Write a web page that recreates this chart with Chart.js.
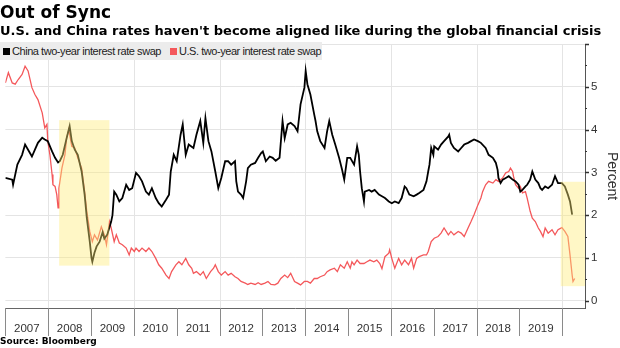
<!DOCTYPE html>
<html>
<head>
<meta charset="utf-8">
<script src="https://cdn.jsdelivr.net/npm/chart.js@4.4.1/dist/chart.umd.min.js"></script>
<style>
  html, body { margin: 0; padding: 0; background: #fff; }
  body { width: 620px; height: 348px; position: relative; overflow: hidden; }
  #title { position: absolute; left: 0; top: 2px; font: bold 17px "DejaVu Sans", sans-serif; color: #000; white-space: nowrap; }
  #subtitle { position: absolute; left: 0; top: 23px; font: bold 13px "DejaVu Sans", sans-serif; color: #000; white-space: nowrap; }
  #legend { position: absolute; left: 0; top: 42px; width: 322px; height: 18px; background: #ececec; font: 11px "Liberation Sans", Arial, sans-serif; letter-spacing: -0.45px; color: #222; z-index: 2; }
  .li { position: absolute; top: 2px; white-space: nowrap; line-height: 14px; }
  .sw { display: inline-block; width: 7px; height: 7px; margin-right: 2px; vertical-align: 0px; }
  #source { position: absolute; left: 0; top: 336px; font: bold 9px "DejaVu Sans", sans-serif; color: #000; white-space: nowrap; }
  #wrap { position: absolute; left: 0; top: 0; width: 620px; height: 338px; }
</style>
</head>
<body>
<div id="wrap"><canvas id="c" width="620" height="338"></canvas></div>
<div id="title">Out of Sync</div>
<div id="subtitle">U.S. and China rates haven't become aligned like during the global financial crisis</div>
<div id="legend"></div>
<div id="source">Source: Bloomberg</div>
<script>
// ---- data (decimal year, percent) ----
const seriesNames = ["China two-year interest rate swap", "U.S. two-year interest rate swap"];
const yearLabels = ["2007","2008","2009","2010","2011","2012","2013","2014","2015","2016","2017","2018","2019"];

const chinaDates = [
2007.00,2007.16,2007.18,2007.28,2007.39,2007.46,2007.53,2007.62,2007.69,2007.76,
2007.86,2007.92,2007.99,2008.09,2008.16,2008.23,2008.27,2008.34,2008.43,2008.50,
2008.55,2008.62,2008.69,2008.78,2008.85,2008.90,2008.97,2009.01,2009.03,2009.08,
2009.13,2009.20,2009.27,2009.31,2009.38,2009.47,2009.50,2009.54,2009.59,2009.66,
2009.73,2009.82,2009.89,2009.96,2010.05,2010.12,2010.19,2010.28,2010.35,2010.42,
2010.51,2010.58,2010.65,2010.75,2010.82,2010.86,2010.93,2011.00,2011.09,2011.14,
2011.21,2011.28,2011.35,2011.39,2011.46,2011.55,2011.62,2011.67,2011.74,2011.81,
2011.90,2011.97,2012.04,2012.13,2012.20,2012.27,2012.36,2012.39,2012.43,2012.50,
2012.55,2012.62,2012.66,2012.73,2012.83,2012.90,2012.97,2013.01,2013.08,2013.17,
2013.24,2013.31,2013.40,2013.47,2013.52,2013.59,2013.66,2013.75,2013.82,2013.89,
2013.98,2014.01,2014.05,2014.12,2014.21,2014.24,2014.28,2014.35,2014.45,2014.51,
2014.56,2014.63,2014.70,2014.79,2014.86,2014.91,2014.98,2015.05,2015.14,2015.21,
2015.25,2015.28,2015.32,2015.37,2015.39,2015.49,2015.55,2015.62,2015.72,2015.79,
2015.86,2015.95,2016.02,2016.09,2016.18,2016.25,2016.32,2016.36,2016.43,2016.53,
2016.60,2016.66,2016.76,2016.83,2016.87,2016.90,2016.94,2016.99,2017.01,2017.10,
2017.17,2017.24,2017.34,2017.36,2017.40,2017.47,2017.57,2017.64,2017.71,2017.80,
2017.87,2017.94,2018.03,2018.10,2018.21,2018.28,2018.38,2018.45,2018.49,2018.51,
2018.56,2018.61,2018.68,2018.75,2018.84,2018.91,2018.98,2019.02,2019.07,2019.14,
2019.18,2019.25,2019.30,2019.37,2019.44,2019.49,2019.53,2019.60,2019.67,2019.76,
2019.83,2019.90,2019.99,2020.06,2020.13,2020.18,2020.23];
const chinaRates = [
2.87,2.83,2.71,3.18,3.41,3.65,3.53,3.37,3.53,3.69,
3.81,3.77,3.73,3.49,3.34,3.23,3.26,3.41,3.80,4.08,
3.73,3.53,3.41,3.02,2.48,1.94,1.38,1.00,0.91,1.12,
1.27,1.38,1.60,1.45,1.55,1.85,2.00,2.55,2.48,2.32,
2.40,2.71,2.59,2.63,2.99,2.91,2.79,2.55,2.48,2.63,
2.40,2.28,2.20,2.36,2.48,3.02,3.41,3.26,3.88,4.12,
3.41,3.65,3.60,3.57,3.88,4.20,3.69,4.27,3.73,3.49,
3.02,2.63,2.87,3.26,3.26,3.18,3.26,2.79,2.55,2.48,
2.40,2.79,3.10,3.18,3.22,3.34,3.45,3.49,3.26,3.37,
3.34,3.27,3.34,4.20,3.80,4.12,4.16,4.08,3.96,4.59,
4.98,5.37,5.06,4.82,4.35,4.20,3.96,3.73,3.57,3.96,
4.20,3.88,3.65,3.34,3.06,2.83,3.34,3.34,3.18,3.61,
3.41,3.02,2.63,2.32,2.55,2.59,2.55,2.59,2.48,2.44,
2.40,2.32,2.28,2.32,2.28,2.40,2.67,2.63,2.48,2.44,
2.48,2.52,2.59,2.79,3.02,3.18,3.57,3.41,3.61,3.53,
3.65,3.73,3.84,3.88,3.69,3.57,3.49,3.57,3.65,3.69,
3.73,3.77,3.73,3.69,3.57,3.41,3.34,3.22,3.06,2.87,
2.75,2.83,2.87,2.91,2.83,2.79,2.71,2.55,2.59,2.67,
2.71,2.83,3.02,2.83,2.75,2.63,2.59,2.67,2.63,2.71,
2.91,2.75,2.75,2.67,2.48,2.32,2.01];

const usDates = [
2007.00,2007.07,2007.16,2007.23,2007.30,2007.39,2007.46,2007.53,2007.62,2007.69,
2007.76,2007.86,2007.92,2007.97,2007.99,2008.04,2008.09,2008.11,2008.16,2008.20,
2008.23,2008.25,2008.32,2008.39,2008.43,2008.48,2008.55,2008.62,2008.69,2008.78,
2008.85,2008.90,2008.97,2009.03,2009.08,2009.15,2009.24,2009.31,2009.36,2009.43,
2009.47,2009.54,2009.59,2009.66,2009.73,2009.82,2009.89,2009.94,2010.01,2010.05,
2010.12,2010.19,2010.28,2010.35,2010.42,2010.51,2010.58,2010.65,2010.75,2010.82,
2010.88,2010.98,2011.05,2011.12,2011.21,2011.28,2011.35,2011.39,2011.46,2011.55,
2011.62,2011.69,2011.79,2011.86,2011.90,2011.97,2012.04,2012.13,2012.20,2012.27,
2012.36,2012.43,2012.50,2012.60,2012.66,2012.73,2012.83,2012.90,2012.97,2013.06,
2013.13,2013.20,2013.29,2013.36,2013.43,2013.52,2013.59,2013.66,2013.75,2013.82,
2013.89,2013.98,2014.05,2014.12,2014.21,2014.28,2014.35,2014.45,2014.51,2014.58,
2014.68,2014.75,2014.82,2014.91,2014.98,2015.05,2015.09,2015.14,2015.21,2015.28,
2015.37,2015.44,2015.51,2015.60,2015.67,2015.74,2015.79,2015.86,2015.95,2015.97,
2016.02,2016.09,2016.18,2016.25,2016.32,2016.41,2016.48,2016.53,2016.60,2016.66,
2016.76,2016.83,2016.87,2016.94,2017.01,2017.10,2017.17,2017.24,2017.34,2017.40,
2017.47,2017.57,2017.64,2017.71,2017.80,2017.87,2017.94,2018.03,2018.10,2018.14,
2018.21,2018.28,2018.38,2018.45,2018.51,2018.61,2018.68,2018.75,2018.79,2018.84,
2018.86,2018.91,2018.98,2019.02,2019.07,2019.14,2019.18,2019.25,2019.30,2019.37,
2019.44,2019.49,2019.55,2019.60,2019.67,2019.76,2019.83,2019.90,2019.99,2020.06,
2020.13,2020.18,2020.23,2020.25,2020.29];
const usRates = [
5.09,5.33,5.09,5.06,5.17,5.29,5.48,5.37,4.98,4.82,
4.70,4.39,4.04,4.12,3.73,3.41,2.95,2.71,2.67,2.48,
2.17,2.63,3.10,3.41,3.80,4.00,3.61,3.57,3.34,3.10,
2.55,2.09,1.62,1.38,1.54,1.42,1.73,1.54,1.31,1.85,
1.70,1.38,1.54,1.35,1.31,1.23,1.07,1.23,1.15,1.23,
1.15,1.23,1.15,1.23,1.15,0.99,0.84,0.76,0.60,0.52,
0.68,0.84,0.91,0.84,0.99,0.84,0.76,0.64,0.68,0.60,
0.68,0.52,0.68,0.76,0.84,0.68,0.60,0.68,0.60,0.64,
0.56,0.52,0.45,0.41,0.38,0.41,0.38,0.42,0.38,0.41,
0.45,0.38,0.37,0.41,0.52,0.60,0.54,0.64,0.45,0.41,
0.37,0.45,0.45,0.41,0.52,0.52,0.56,0.60,0.68,0.72,
0.76,0.68,0.84,0.76,0.91,0.76,0.91,0.84,0.95,0.87,
0.87,0.91,0.95,0.91,0.95,0.87,0.75,1.03,1.11,1.19,
0.99,0.76,0.99,0.84,0.95,0.84,0.99,0.76,0.99,1.03,
1.07,1.07,1.15,1.38,1.46,1.50,1.58,1.70,1.54,1.62,
1.54,1.62,1.58,1.50,1.70,1.85,2.01,2.24,2.40,2.55,
2.71,2.79,2.75,2.83,2.79,2.87,2.99,3.02,3.10,3.02,
2.91,2.71,2.63,2.67,2.52,2.55,2.40,2.09,1.93,1.85,
1.70,1.62,1.50,1.70,1.58,1.66,1.54,1.66,1.71,1.62,
1.50,1.07,0.60,0.45,0.52];

// highlighted periods: [startYear, endYear, lowPct, highPct]
const highlightStart = [2008.255, 2019.964];
const highlightEnd   = [2009.428, 2020.53];
const highlightLow   = [0.82, 0.34];
const highlightHigh  = [4.22, 2.78];

const colors = { china: "#000000", us: "#f4585b", grid: "#e4e4e4", axis: "#555555", band: "rgba(255,236,120,0.42)" };

// legend (HTML)
const legendEl = document.getElementById('legend');
[[seriesNames[0], colors.china, 3], [seriesNames[1], colors.us, 170]].forEach(([t, c, x]) => {
  const d = document.createElement('div');
  d.className = 'li'; d.style.left = x + 'px';
  d.innerHTML = '<span class="sw" style="background:' + c + '"></span>' + t;
  legendEl.appendChild(d);
});

const gridPlugin = {
  id: 'gridPlugin',
  beforeDatasetsDraw(chart) {
    const { ctx, chartArea: a, scales: { x, y } } = chart;
    ctx.save();
    ctx.strokeStyle = colors.grid; ctx.lineWidth = 1;
    for (let yr = Math.ceil(x.min); yr <= x.max; yr++) {
      if (yr % 2 !== 0) continue;
      const px = Math.round(x.getPixelForValue(yr)) + 0.5;
      ctx.beginPath(); ctx.moveTo(px, a.top); ctx.lineTo(px, a.bottom); ctx.stroke();
    }
    ctx.restore();
  },
  afterDatasetsDraw(chart) {
    const { ctx, chartArea: a, scales: { x, y } } = chart;
    ctx.save();
    ctx.fillStyle = colors.band;
    for (let i = 0; i < highlightStart.length; i++) {
      const x0 = x.getPixelForValue(highlightStart[i]);
      const x1 = Math.min(x.getPixelForValue(highlightEnd[i]), a.right);
      const y0 = y.getPixelForValue(highlightHigh[i]);
      const y1 = y.getPixelForValue(highlightLow[i]);
      ctx.fillRect(x0, y0, x1 - x0, y1 - y0);
    }
    ctx.restore();
  },
  afterDraw(chart) {
    const { ctx, chartArea: a, scales: { x, y } } = chart;
    ctx.save();
    ctx.strokeStyle = '#8a8a8a'; ctx.lineWidth = 1;
    for (let yr = Math.ceil(x.min); yr <= x.max; yr++) {
      const px = Math.round(x.getPixelForValue(yr)) + 0.5;
      ctx.beginPath(); ctx.moveTo(px, a.bottom); ctx.lineTo(px, a.bottom + 28); ctx.stroke();
    }
    ctx.strokeStyle = '#333';
    y.ticks.forEach(t => {
      if (t.value < 0) return;
      const py = Math.round(y.getPixelForValue(t.value)) + 0.5;
      const major = Math.abs(t.value - Math.round(t.value)) < 1e-6;
      ctx.lineWidth = major ? 1.5 : 1;
      ctx.beginPath(); ctx.moveTo(a.right, py); ctx.lineTo(a.right + (major ? 4 : 2), py); ctx.stroke();
    });
    ctx.restore();
  }
};

const toPoints = (xs, ys) => xs.map((v, i) => ({ x: v, y: ys[i] }));
const tickFont = { family: '"Liberation Sans", Arial, sans-serif', size: 11.5 };

new Chart(document.getElementById('c'), {
  type: 'line',
  data: {
    datasets: [
      { label: seriesNames[1], data: toPoints(usDates, usRates), borderColor: colors.us, borderWidth: 1.3, pointRadius: 0, tension: 0, order: 2 },
      { label: seriesNames[0], data: toPoints(chinaDates, chinaRates), borderColor: colors.china, borderWidth: 1.8, pointRadius: 0, tension: 0, order: 1 }
    ]
  },
  options: {
    responsive: false,
    animation: false,
    devicePixelRatio: 1,
    layout: { padding: { top: 44, left: 0, right: 0, bottom: 0 } },
    plugins: { legend: { display: false }, tooltip: { enabled: false }, title: { display: false } },
    scales: {
      x: {
        type: 'linear',
        min: 2007,
        max: 2020.53,
        afterBuildTicks(scale) { scale.ticks = yearLabels.map((l) => ({ value: Number(l) + 0.5 })); },
        afterFit(scale) { scale.height = 30; },
        grid: { display: false, drawTicks: false },
        border: { display: true, color: '#666', width: 1 },
        ticks: {
          autoSkip: false, maxRotation: 0, padding: 14,
          color: '#333', font: tickFont,
          callback: (v, i) => yearLabels[i]
        }
      },
      y: {
        position: 'right',
        min: -0.17,
        max: 6,
        afterFit(scale) { scale.width = 35; },
        grid: {
          drawTicks: false,
          color: (c) => (c.tick && Math.abs(c.tick.value - Math.round(c.tick.value)) < 1e-6 && c.tick.value >= 0) ? colors.grid : 'rgba(0,0,0,0)'
        },
        border: { display: true, color: colors.axis, width: 1 },
        ticks: {
          stepSize: 0.5, includeBounds: false, padding: 6, color: '#333', font: tickFont,
          callback: (v) => (Math.abs(v - Math.round(v)) < 1e-6 && v >= 0 && v <= 5) ? String(Math.round(v)) : ''
        },
        title: {
          display: true, text: 'Percent', color: '#333',
          font: { family: '"Liberation Sans", Arial, sans-serif', size: 14, lineHeight: 1.1 },
          padding: { top: 0, bottom: 0 }
        }
      }
    }
  },
  plugins: [gridPlugin]
});
</script>
</body>
</html>
